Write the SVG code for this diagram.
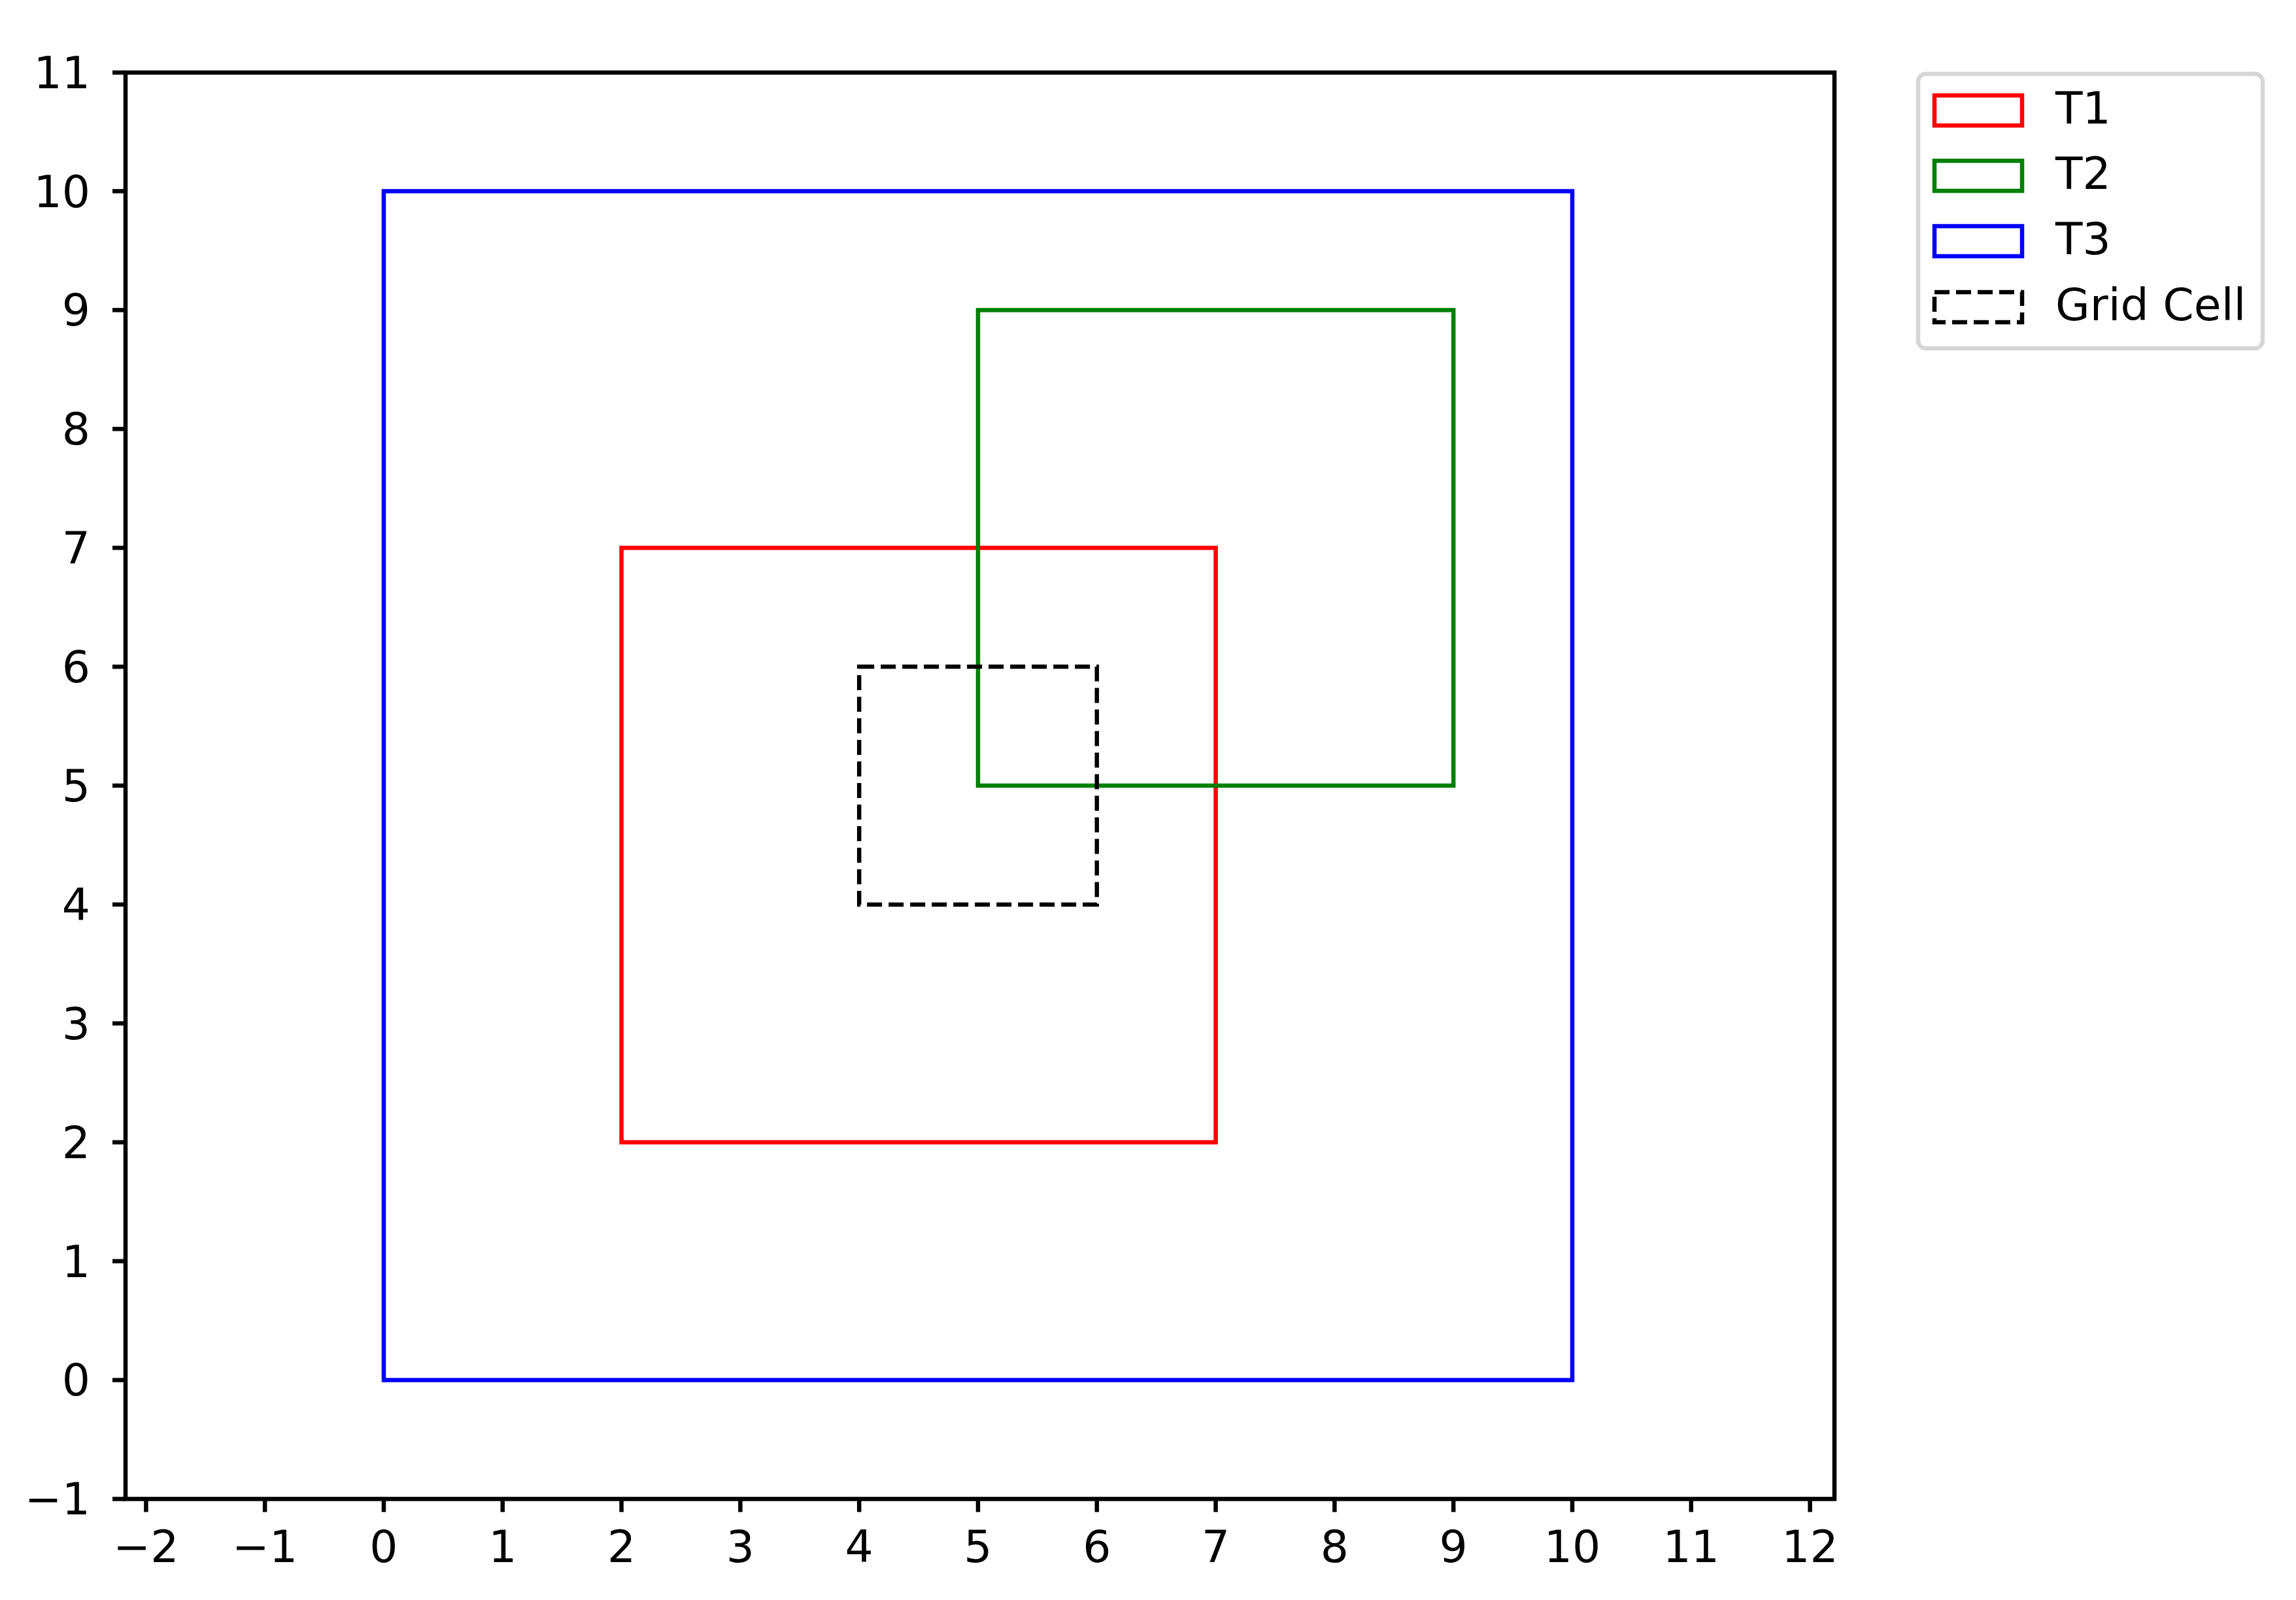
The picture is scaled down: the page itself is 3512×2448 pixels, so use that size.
<svg xmlns="http://www.w3.org/2000/svg" width="3512" height="2448" viewBox="0 0 3512 2448">
<style>
text{font-family:"DejaVu Sans","Liberation Sans",sans-serif;font-size:68px;fill:#000}
.yl{text-anchor:end}
.xl{text-anchor:middle}
.tick{stroke:#000;stroke-width:6.5}
.box{fill:none;stroke-width:6.5;stroke-linejoin:miter}
.dash{stroke-dasharray:23 10}
</style>
<rect width="3512" height="2448" fill="#fff"/>
<g id="shapes">
<rect id="T1" class="box" x="950.6" y="838.2" width="909" height="909.5" stroke="#ff0000"/>
<rect id="T2" class="box" x="1496" y="474.4" width="727.2" height="727.6" stroke="#008000"/>
<rect id="T3" class="box" x="587" y="292.5" width="1818" height="1819" stroke="#0000ff"/>
<rect id="gridcell" class="box dash" x="1314.2" y="1020.1" width="363.6" height="363.8" stroke="#000"/>
</g>
<g id="axes">
<rect x="192" y="111" width="2614" height="2182.4" fill="none" stroke="#000" stroke-width="6.5"/>
<g id="yticks">
<line class="tick" x1="172" y1="2293.4" x2="192" y2="2293.4"/>
<line class="tick" x1="172" y1="2111.5" x2="192" y2="2111.5"/>
<line class="tick" x1="172" y1="1929.6" x2="192" y2="1929.6"/>
<line class="tick" x1="172" y1="1747.7" x2="192" y2="1747.7"/>
<line class="tick" x1="172" y1="1565.8" x2="192" y2="1565.8"/>
<line class="tick" x1="172" y1="1383.9" x2="192" y2="1383.9"/>
<line class="tick" x1="172" y1="1202" x2="192" y2="1202"/>
<line class="tick" x1="172" y1="1020.1" x2="192" y2="1020.1"/>
<line class="tick" x1="172" y1="838.2" x2="192" y2="838.2"/>
<line class="tick" x1="172" y1="656.3" x2="192" y2="656.3"/>
<line class="tick" x1="172" y1="474.4" x2="192" y2="474.4"/>
<line class="tick" x1="172" y1="292.5" x2="192" y2="292.5"/>
<line class="tick" x1="172" y1="111" x2="192" y2="111"/>
<text class="yl" x="138" y="2317">−1</text>
<text class="yl" x="138" y="2135">0</text>
<text class="yl" x="138" y="1954">1</text>
<text class="yl" x="138" y="1772">2</text>
<text class="yl" x="138" y="1590">3</text>
<text class="yl" x="138" y="1408">4</text>
<text class="yl" x="138" y="1226">5</text>
<text class="yl" x="138" y="1044">6</text>
<text class="yl" x="138" y="862">7</text>
<text class="yl" x="138" y="680">8</text>
<text class="yl" x="138" y="498">9</text>
<text class="yl" x="138" y="317">10</text>
<text class="yl" x="138" y="135">11</text>
</g>
<g id="xticks">
<line class="tick" x1="223.4" y1="2293.4" x2="223.4" y2="2313.4"/>
<line class="tick" x1="405.2" y1="2293.4" x2="405.2" y2="2313.4"/>
<line class="tick" x1="587" y1="2293.4" x2="587" y2="2313.4"/>
<line class="tick" x1="768.8" y1="2293.4" x2="768.8" y2="2313.4"/>
<line class="tick" x1="950.6" y1="2293.4" x2="950.6" y2="2313.4"/>
<line class="tick" x1="1132.4" y1="2293.4" x2="1132.4" y2="2313.4"/>
<line class="tick" x1="1314.2" y1="2293.4" x2="1314.2" y2="2313.4"/>
<line class="tick" x1="1496" y1="2293.4" x2="1496" y2="2313.4"/>
<line class="tick" x1="1677.8" y1="2293.4" x2="1677.8" y2="2313.4"/>
<line class="tick" x1="1859.6" y1="2293.4" x2="1859.6" y2="2313.4"/>
<line class="tick" x1="2041.4" y1="2293.4" x2="2041.4" y2="2313.4"/>
<line class="tick" x1="2223.2" y1="2293.4" x2="2223.2" y2="2313.4"/>
<line class="tick" x1="2405" y1="2293.4" x2="2405" y2="2313.4"/>
<line class="tick" x1="2586.8" y1="2293.4" x2="2586.8" y2="2313.4"/>
<line class="tick" x1="2768.6" y1="2293.4" x2="2768.6" y2="2313.4"/>
<text class="xl" x="223.4" y="2390">−2</text>
<text class="xl" x="405.2" y="2390">−1</text>
<text class="xl" x="587" y="2390">0</text>
<text class="xl" x="768.8" y="2390">1</text>
<text class="xl" x="950.6" y="2390">2</text>
<text class="xl" x="1132.4" y="2390">3</text>
<text class="xl" x="1314.2" y="2390">4</text>
<text class="xl" x="1496" y="2390">5</text>
<text class="xl" x="1677.8" y="2390">6</text>
<text class="xl" x="1859.6" y="2390">7</text>
<text class="xl" x="2041.4" y="2390">8</text>
<text class="xl" x="2223.2" y="2390">9</text>
<text class="xl" x="2405" y="2390">10</text>
<text class="xl" x="2586.8" y="2390">11</text>
<text class="xl" x="2768.6" y="2390">12</text>
</g>
</g>
<g id="legend">
<rect x="2934" y="113" width="527" height="420" rx="12" fill="#fff" stroke="#d6d6d6" stroke-width="6.5"/>
<rect class="box" x="2959" y="146" width="134" height="46" stroke="#ff0000"/>
<text x="3144" y="189">T1</text>
<rect class="box" x="2959" y="246" width="134" height="46" stroke="#008000"/>
<text x="3144" y="289">T2</text>
<rect class="box" x="2959" y="346" width="134" height="46" stroke="#0000ff"/>
<text x="3144" y="389">T3</text>
<rect class="box dash" x="2959" y="447" width="134" height="46" stroke="#000"/>
<text x="3144" y="490">Grid Cell</text>
</g>
</svg>
